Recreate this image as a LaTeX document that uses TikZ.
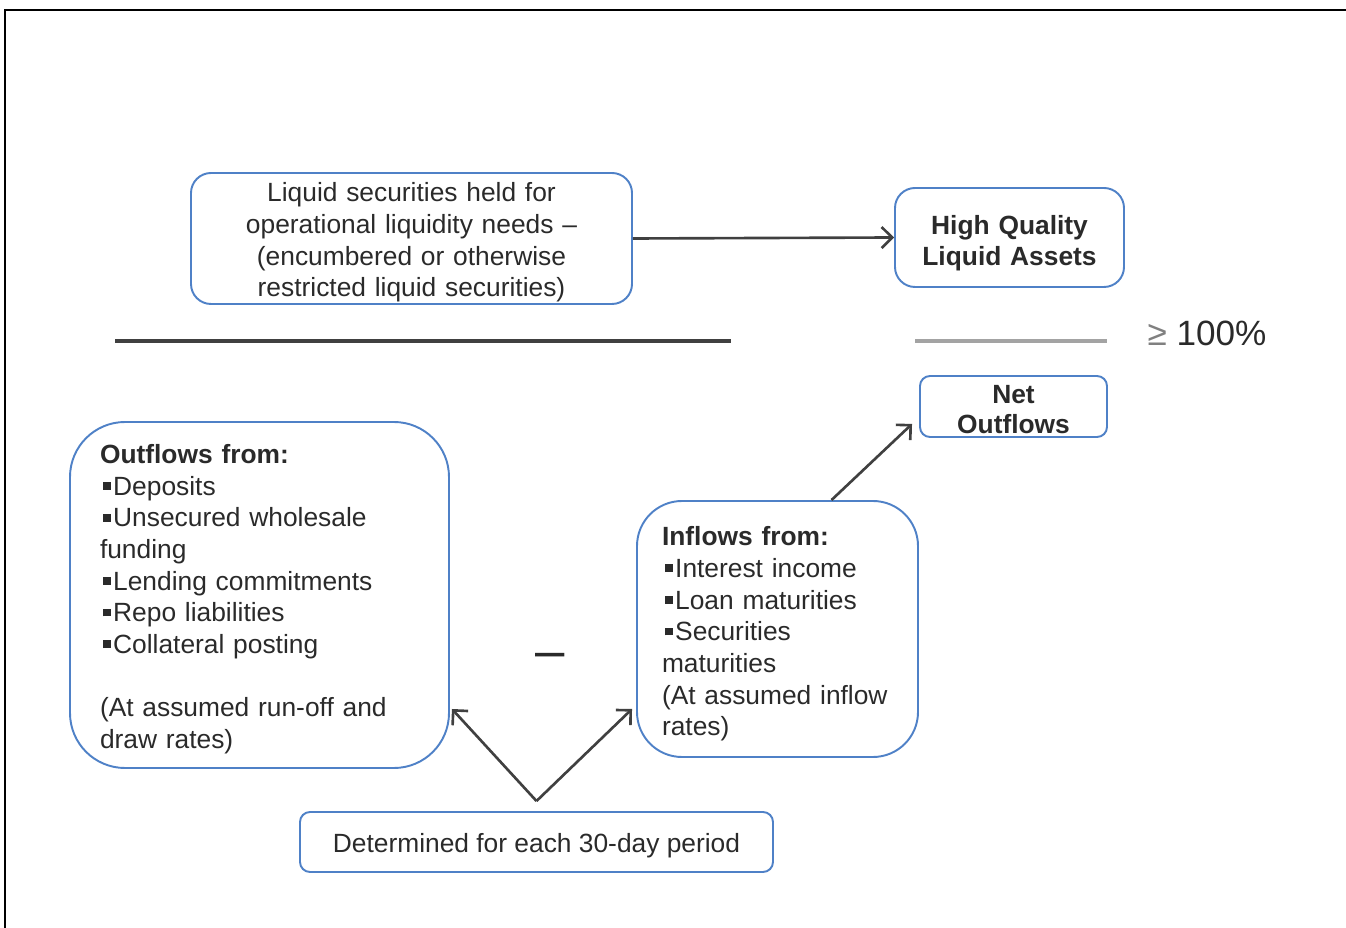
\documentclass[tikz,border=0pt]{standalone}
\usepackage{fontspec}
\setmainfont{Liberation Sans}
\usetikzlibrary{arrows.meta}

\definecolor{BoxColor}{HTML}{4F81C7}
\definecolor{InkColor}{HTML}{2A2A2A}
\definecolor{RuleColor}{HTML}{404040}
\definecolor{LightRule}{HTML}{A3A3A3}

\begin{document}
\begin{tikzpicture}[x=0.02cm,y=-0.02cm,
    box/.style={draw=BoxColor,line width=1.1pt,text=InkColor,
      font=\fontsize{15pt}{18pt}\selectfont,inner sep=0pt},
    push/.style={execute at begin node={\rule{0pt}{#1}}},
    arrow/.style={draw=RuleColor,line width=1.5pt,
      -{Straight Barb[length=6pt,width=12pt,line width=1.5pt]}}]
  % ===== Parámetros =====
  \def\px{0.02cm}
  \def\sqbullet{\hspace{0.1em}\rule[0.2em]{0.3em}{0.3em}\hspace{0.1em}}

  \useasboundingbox (0,0) rectangle (1346,928);

  % ===== Marco =====
  \draw[line width=1.5pt,black] (5,940) -- (5,10) -- (1360,10);

  % ===== Numerador =====
  \node[box,push=15.5pt,rounded corners=20*\px,minimum width=441*\px,minimum height=131*\px,
    text width=420*\px,align=center]
    (liq) at (411.5,238.5)
    {Liquid securities held for\\operational liquidity needs –\\(encumbered or otherwise\\restricted liquid securities)};
  \node[box,push=17.5pt,rounded corners=20*\px,minimum width=229*\px,minimum height=99*\px,
    text width=210*\px,align=center,font=\fontsize{15pt}{18pt}\selectfont\bfseries]
    (hqla) at (1009.5,237.5) {High Quality\\Liquid Assets};

  % ===== Líneas de fracción =====
  \draw[RuleColor,line width=1.9pt] (115,341) -- (731,341);
  \draw[LightRule,line width=1.9pt] (915,341) -- (1107,341);
  \node[text=InkColor,font=\fontsize{20pt}{22pt}\selectfont] (ratio) at (1207,333)
    {\textcolor{gray}{≥} 100\%};

  % ===== Denominador =====
  \node[box,push=13.5pt,rounded corners=10*\px,minimum width=187*\px,minimum height=61*\px,
    text width=170*\px,align=center,font=\fontsize{15pt}{17pt}\selectfont\bfseries]
    (net) at (1013.5,406.5) {Net\\Outflows};

  \node[box,push=15.5pt,rounded corners=55*\px,minimum width=379*\px,minimum height=346*\px,
    text width=319*\px,align=left]
    (outflows) at (259.5,595)
    {\textbf{Outflows from:}\\
     \sqbullet Deposits\\
     \sqbullet Unsecured wholesale\\
     funding\\
     \sqbullet Lending commitments\\
     \sqbullet Repo liabilities\\
     \sqbullet Collateral posting\\[18pt]
     (At assumed run-off and\\
     draw rates)};

  \node[text=InkColor,font=\fontsize{30pt}{30pt}\selectfont] (minus) at (550,661) {–};

  \node[box,push=16.5pt,rounded corners=45*\px,minimum width=281*\px,minimum height=256*\px,
    text width=231*\px,align=left]
    (inflows) at (777.5,629)
    {\textbf{Inflows from:}\\
     \sqbullet Interest income\\
     \sqbullet Loan maturities\\
     \sqbullet Securities\\
     maturities\\
     (At assumed inflow\\
     rates)};

  \node[box,push=15.5pt,rounded corners=10*\px,minimum width=473*\px,minimum height=60*\px]
    (period) at (536.5,842) {Determined for each 30-day period};

  % ===== Flechas =====
  \coordinate (apex) at ([yshift=10*\px]period.north);
  \draw[arrow] (liq.east) -- (hqla.west);
  \draw[arrow] ([xshift=54*\px]inflows.north) -- ([shift={(-7,-14)}]net.south west);
  \draw[arrow] (apex) -- ([shift={(2,114)}]outflows.east);
  \draw[arrow] (apex) -- ([shift={(-4,80)}]inflows.west);

\end{tikzpicture}
\end{document}
